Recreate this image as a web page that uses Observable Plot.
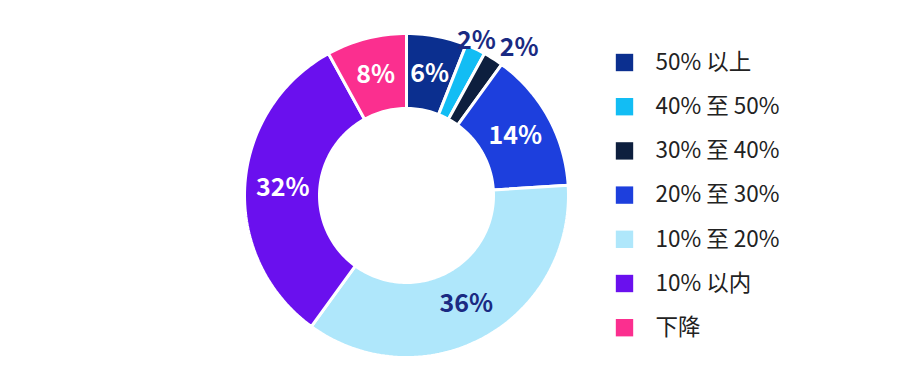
<!DOCTYPE html>
<html>
<head>
<meta charset="utf-8">
<script src="https://cdn.jsdelivr.net/npm/d3@7"></script>
<script src="https://cdn.jsdelivr.net/npm/@observablehq/plot@0.6"></script>
<style>
  html, body { margin: 0; padding: 0; background: #fff; }
  #chart { width: 900px; height: 390px; }
</style>
</head>
<body>
<div id="chart"></div>
<script>
// ---- data ----
const categories = ["50% 以上", "40% 至 50%", "30% 至 40%", "20% 至 30%", "10% 至 20%", "10% 以内", "下降"];
const values = [6, 2, 2, 14, 36, 32, 8];
const colors = ["#0b2f8f", "#12bdf4", "#0d1f3e", "#1d3fdd", "#afe7fb", "#6a10ee", "#fb2f8f"];
const labelTexts = ["6%", "2%", "2%", "14%", "36%", "32%", "8%"];

// ---- layout (pixel-like units, center of donut at origin) ----
const W = 900, H = 390;
const cx = 406, cy = 195;
const rOuter = 162, rInner = 87;
const total = d3.sum(values);

const slices = [];
const labels = [];
let acc = 0;
let smallIndex = 0;
values.forEach((v, i) => {
  const a0 = acc / total * 2 * Math.PI;
  acc += v;
  const a1 = acc / total * 2 * Math.PI;
  const n = Math.max(8, Math.ceil((a1 - a0) / (2 * Math.PI) * 240));
  const pts = [];
  for (let k = 0; k <= n; k++) { const a = a0 + (a1 - a0) * k / n; pts.push([a, rOuter]); }
  for (let k = n; k >= 0; k--) { const a = a0 + (a1 - a0) * k / n; pts.push([a, rInner]); }
  pts.push([a0, rOuter]);
  pts.forEach(([a, r], j) => slices.push({cat: categories[i], x: r * Math.sin(a), y: r * Math.cos(a), j}));
  const mid = (a0 + a1) / 2;
  const small = v / total < 0.03;
  let r = small ? 171 : 124;
  let shift = 0;
  if (small) { r += smallIndex * 4; shift = smallIndex * 22 - 3; smallIndex++; }
  const light = categories[i] === "10% 至 20%";
  labels.push({
    text: labelTexts[i],
    x: r * Math.sin(mid) + shift,
    y: r * Math.cos(mid),
    fill: small || light ? "#1a2a82" : "#ffffff"
  });
});

// legend rows
const legendRows = categories.map((c, i) => ({cat: c, y: cy - (62 + i * 44.2)}));

const chart = Plot.plot({
  width: W,
  height: H,
  margin: 0,
  x: {domain: [-cx, W - cx], axis: null},
  y: {domain: [-(H - cy), cy], axis: null},
  color: {domain: categories, range: colors},
  style: {fontFamily: "'Noto Sans CJK SC', 'Noto Sans', sans-serif", background: "#fff"},
  marks: [
    Plot.line(slices, {x: "x", y: "y", z: "cat", fill: "cat", stroke: "#ffffff", strokeWidth: 3, strokeLinejoin: "round", curve: "linear"}),
    Plot.text(labels, {x: "x", y: "y", text: "text", fill: d => d.fill, fontSize: 25, fontWeight: "bold", textAnchor: "middle"}),
    Plot.dot(legendRows, {x: 624 - cx, y: "y", fill: "cat", symbol: "square", r: 9.8}),
    Plot.text(legendRows, {x: 655 - cx, y: "y", text: "cat", textAnchor: "start", fontSize: 22.5, fill: "#222222"})
  ]
});
document.getElementById("chart").appendChild(chart);
</script>
</body>
</html>
